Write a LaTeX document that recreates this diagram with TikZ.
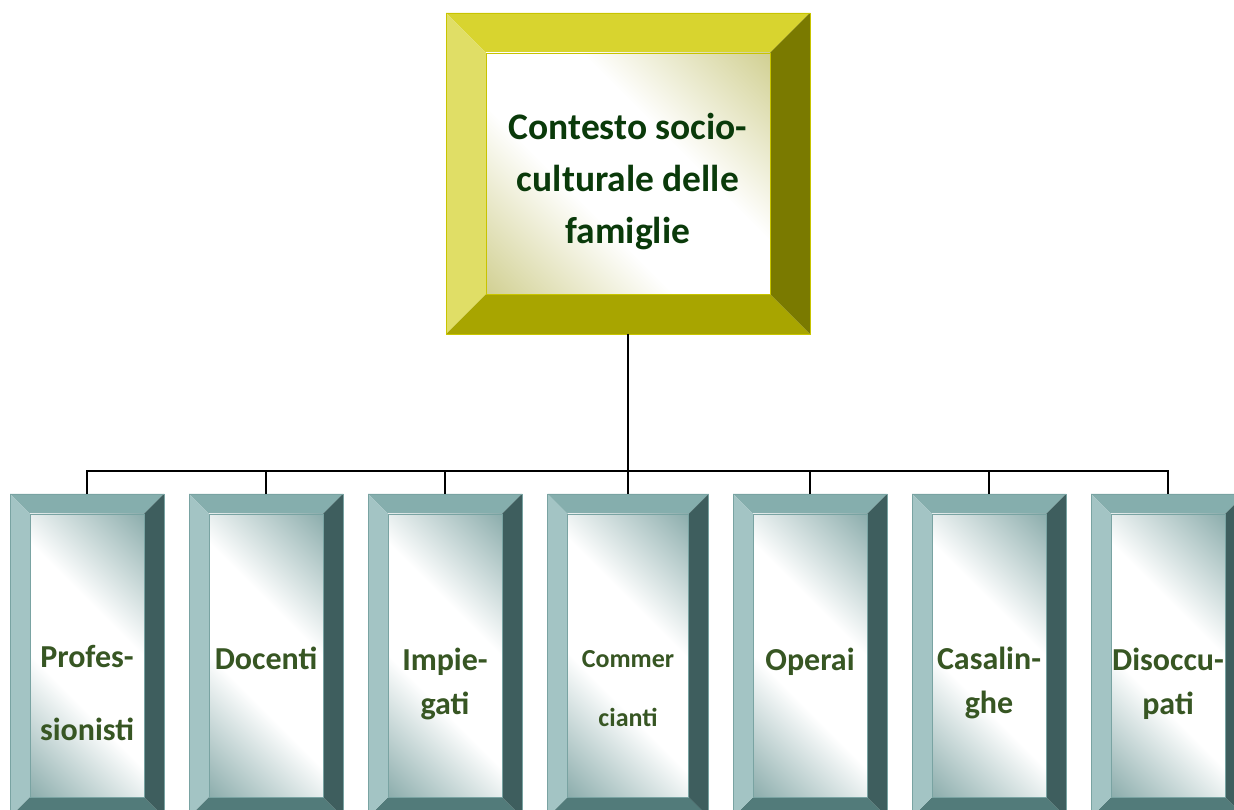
\documentclass[tikz,border=0pt]{standalone}
\usepackage{fontspec}
\setmainfont{Carlito}
\usetikzlibrary{calc}
\definecolor{tTop}{HTML}{85AEAD}
\definecolor{tLeft}{HTML}{A3C4C4}
\definecolor{tRight}{HTML}{3E5E5E}
\definecolor{tBot}{HTML}{527B7A}
\definecolor{tLine}{HTML}{79A3A2}
\definecolor{tFace}{HTML}{6A9594}
\definecolor{oTop}{HTML}{D8D42F}
\definecolor{oLeft}{HTML}{E0DE66}
\definecolor{oRight}{HTML}{7A7A00}
\definecolor{oBot}{HTML}{A8A500}
\definecolor{oLine}{HTML}{C8C400}
\definecolor{oFace}{HTML}{C4C272}
\definecolor{txtTop}{HTML}{0A3A0A}
\definecolor{txtBot}{HTML}{375623}
\pgfdeclarehorizontalshading{tface}{100bp}{color(0bp)=(tFace); color(7bp)=(tFace); color(40bp)=(white); color(60bp)=(white); color(93bp)=(tFace); color(100bp)=(tFace)}
\pgfdeclarehorizontalshading{oface}{100bp}{color(0bp)=(oFace); color(7bp)=(oFace); color(40bp)=(white); color(60bp)=(white); color(93bp)=(oFace); color(100bp)=(oFace)}
% #1 name, #2 cx, #3 cy, #4 width, #5 height, #6 bevel, #7 colour prefix
\newcommand\bevbox[7]{%
  \node[minimum width=#4, minimum height=#5, inner sep=0pt, outer sep=0pt] (#1) at (#2,#3) {};
  \fill[#7Top] (#1.north west) -- (#1.north east) -- ($(#1.north east)+(-#6,-#6)$) -- ($(#1.north west)+(#6,-#6)$) -- cycle;
  \fill[#7Bot] (#1.south west) -- (#1.south east) -- ($(#1.south east)+(-#6,#6)$) -- ($(#1.south west)+(#6,#6)$) -- cycle;
  \fill[#7Left] (#1.north west) -- (#1.south west) -- ($(#1.south west)+(#6,#6)$) -- ($(#1.north west)+(#6,-#6)$) -- cycle;
  \fill[#7Right] (#1.north east) -- (#1.south east) -- ($(#1.south east)+(-#6,#6)$) -- ($(#1.north east)+(-#6,-#6)$) -- cycle;
  \shade[shading=#7face, shading angle=45] ($(#1.north west)+(#6,-#6)$) rectangle ($(#1.south east)+(-#6,#6)$);
  \draw[#7Line, line width=0.7pt] ($(#1.north west)+(#6,-#6)$) rectangle ($(#1.south east)+(-#6,#6)$);
  \draw[#7Line, line width=0.8pt] (#1.north west) rectangle (#1.south east);
}
\tikzset{
  conn/.style={draw=black, line width=2pt},
  toplabel/.style={font=\fontsize{37.5}{52}\selectfont\bfseries, text=txtTop, align=center, inner sep=0pt},
  botlabel/.style={font=\fontsize{32}{44}\selectfont\bfseries, text=txtBot, align=center, inner sep=0pt},
  smalllabel/.style={font=\fontsize{26}{59}\selectfont\bfseries, text=txtBot, align=center, inner sep=0pt}
}
\begin{document}
\begin{tikzpicture}[x=1pt,y=1pt]
\useasboundingbox (0,0) rectangle (1234,810);
\clip (0,0) rectangle (1234,810);
\fill[white] (0,0) rectangle (1234,810);
\coordinate (bus) at (628,339);
\bevbox{top}{628}{636.5}{364pt}{321pt}{40}{o}
\bevbox{prof}{87}{154.5}{154pt}{323pt}{20}{t}
\bevbox{doc}{266}{154.5}{154pt}{323pt}{20}{t}
\bevbox{imp}{445}{154.5}{154pt}{323pt}{20}{t}
\bevbox{com}{628}{154.5}{161pt}{323pt}{20}{t}
\bevbox{ope}{810}{154.5}{154pt}{323pt}{20}{t}
\bevbox{cas}{989}{154.5}{154pt}{323pt}{20}{t}
\bevbox{dis}{1168}{154.5}{154pt}{323pt}{20}{t}
\draw[conn] (top.south) -- (bus);
\foreach \n in {prof,doc,imp,com,ope,cas,dis}{
  \draw[conn] (bus) -| (\n.north);
}
% labels
\node[toplabel] (topl) at (628,628.5) {Contesto socio-\\culturale delle\\famiglie};
\node[botlabel] (profl) at (87,116.5) {Profes-\\[29pt]sionisti};
\node[botlabel] (docl) at (266,152) {Docenti};
\node[botlabel] (impl) at (445,126.5) {Impie-\\gati};
\node[smalllabel] (coml) at (628,121) {Commer\\cianti};
\node[botlabel] (opel) at (810,148.5) {Operai};
\node[botlabel] (casl) at (989,127.5) {Casalin-\\ghe};
\node[botlabel] (disl) at (1168,126.5) {Disoccu-\\pati};
\end{tikzpicture}
\end{document}
